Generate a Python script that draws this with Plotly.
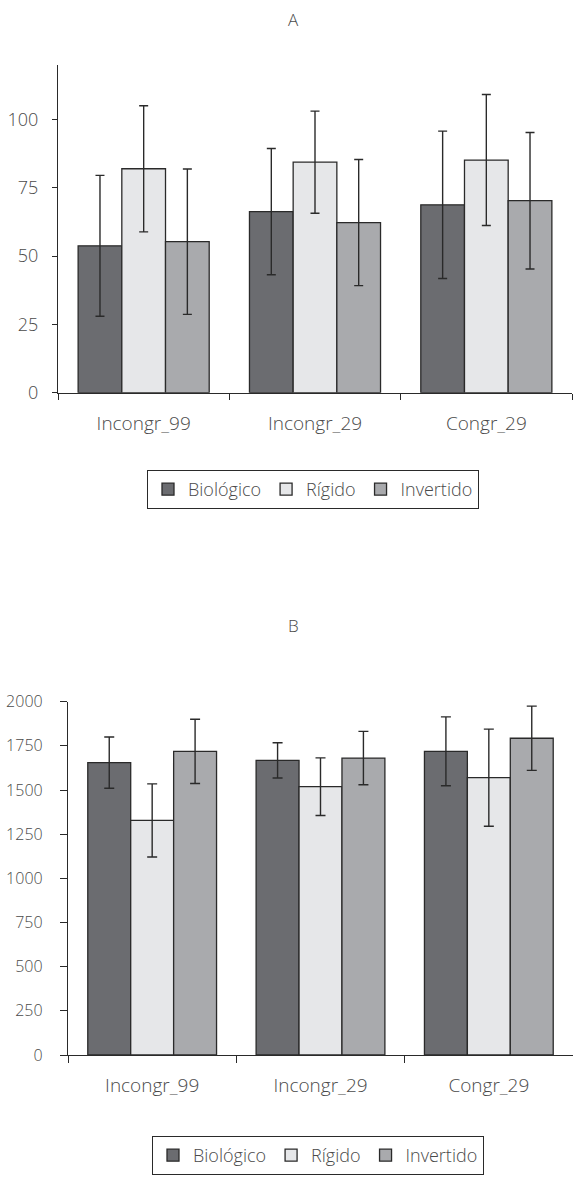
import plotly.graph_objects as go

categories = ["Incongr_99", "Incongr_29", "Congr_29"]
series_names = ["Biológico", "Rígido", "Invertido"]
colors = ["#6b6c70", "#e6e7e9", "#a9aaad"]

# Panel A
a_bio = [53.8, 66.3, 68.8]
a_bio_err = [25.8, 23.1, 27.0]
a_rig = [82.0, 84.4, 85.2]
a_rig_err = [23.1, 18.7, 24.0]
a_inv = [55.3, 62.3, 70.3]
a_inv_err = [26.6, 23.1, 25.0]

# Panel B
b_bio = [1655, 1668, 1719]
b_bio_err = [145, 100, 195]
b_rig = [1328, 1519, 1570]
b_rig_err = [207, 163, 275]
b_inv = [1719, 1681, 1793]
b_inv_err = [182, 151, 182]

W, H = 575, 1177
FONT = "Open Sans"
TXT = "#4a4a4a"
LINE = "#2a2a2a"
WT = 300

fig = go.Figure()

panels = [
    ("x", "y", "legend", [a_bio, a_rig, a_inv], [a_bio_err, a_rig_err, a_inv_err], 4.5),
    ("x2", "y2", "legend2", [b_bio, b_rig, b_inv], [b_bio_err, b_rig_err, b_inv_err], 5),
]
for xa, ya, leg, vals, errs, capw in panels:
    for name, col, v, e in zip(series_names, colors, vals, errs):
        fig.add_trace(go.Bar(
            x=categories, y=v, name=name, xaxis=xa, yaxis=ya, legend=leg,
            marker=dict(color=col, line=dict(color=LINE, width=1.3)),
            error_y=dict(type="data", array=e, visible=True, color=LINE,
                         thickness=1.4, width=capw),
        ))

def ypos(px):
    return (H - px) / H

axis_common = dict(showline=True, linecolor=LINE, linewidth=1.3, showgrid=False,
                   zeroline=False, automargin=False, ticks="outside",
                   tickcolor=LINE, tickwidth=1.2)

fig.update_layout(
    width=W, height=H, margin=dict(l=0, r=0, t=0, b=0),
    paper_bgcolor="white", plot_bgcolor="white",
    barmode="group", bargap=0.235, bargroupgap=0,
    font=dict(family=FONT, color=TXT, weight=WT),
    showlegend=True,
    xaxis=dict(domain=[58 / W, 572 / W], anchor="y", range=[-0.5, 2.5],
               tickson="boundaries", ticklen=6, ticklabelstandoff=13,
               tickfont=dict(size=19, color=TXT, weight=WT), **axis_common),
    yaxis=dict(domain=[ypos(392.7), ypos(65)], anchor="x", range=[0, 120],
               tickvals=[0, 25, 50, 75, 100], ticklen=5, ticklabelstandoff=10,
               tickfont=dict(size=18, color=TXT, weight=WT), **axis_common),
    xaxis2=dict(domain=[68 / W, 573 / W], anchor="y2", range=[-0.5, 2.5],
                tickson="boundaries", ticklen=7, ticklabelstandoff=13,
                tickfont=dict(size=19, color=TXT, weight=WT), **axis_common),
    yaxis2=dict(domain=[ypos(1055), ypos(701.7)], anchor="x2", range=[0, 2000],
                tickvals=list(range(0, 2001, 250)), ticklen=7, ticklabelstandoff=14,
                tickfont=dict(size=16, color=TXT, weight=WT), **axis_common),
    legend=dict(orientation="h", x=313 / W, xanchor="center", y=ypos(470), yanchor="top",
                bordercolor=LINE, borderwidth=1, font=dict(size=18, color=TXT, weight=WT),
                itemwidth=30, tracegroupgap=0),
    legend2=dict(orientation="h", x=318 / W, xanchor="center", y=ypos(1136), yanchor="top",
                 bordercolor=LINE, borderwidth=1, font=dict(size=18, color=TXT, weight=WT),
                 itemwidth=30, tracegroupgap=0),
    annotations=[
        dict(text="A", x=293 / W, y=ypos(19), xref="paper", yref="paper", yanchor="middle",
             showarrow=False, font=dict(size=17, color=TXT, weight=WT)),
        dict(text="B", x=293 / W, y=ypos(625), xref="paper", yref="paper", yanchor="middle",
             showarrow=False, font=dict(size=17, color=TXT, weight=WT)),
    ],
)

fig.write_html("out.html")
